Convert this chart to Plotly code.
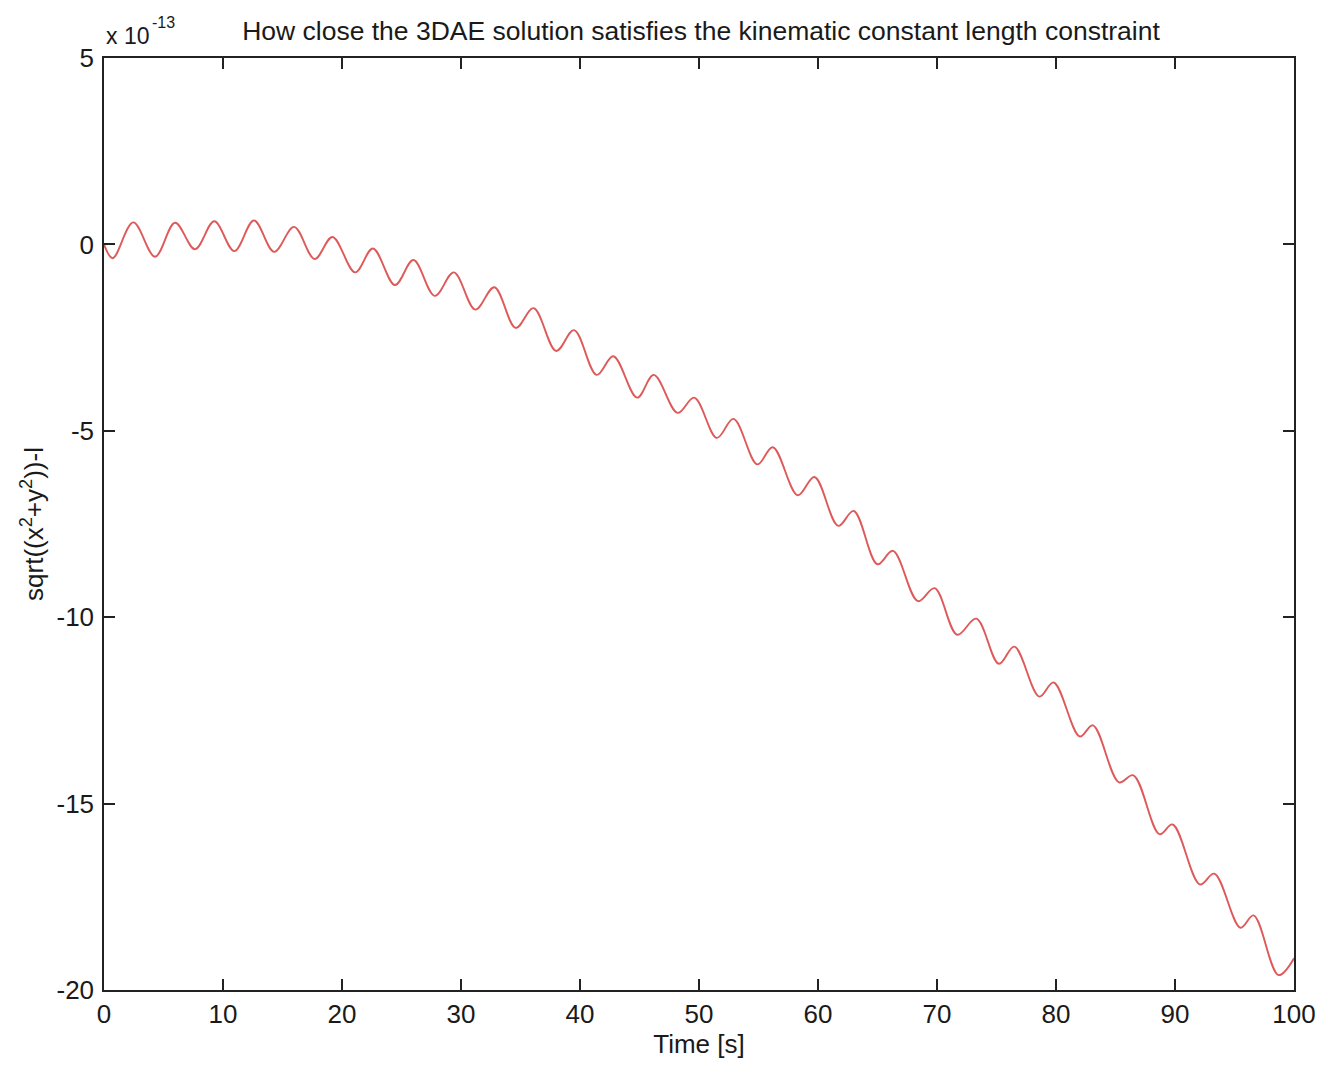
import plotly.graph_objects as go

# Extrema (y in units of 1e-13)
time_s = [0.0, 0.73, 2.46, 4.29, 5.97, 7.65, 9.27, 10.95, 12.6, 14.3,
          15.97, 17.7, 19.2, 21.1, 22.6, 24.45, 26.0, 27.8, 29.4, 31.2,
          32.8, 34.6, 36.1, 38.0, 39.5, 41.4, 42.8, 44.8, 46.2, 48.2,
          49.6, 51.5, 52.9, 54.9, 56.2, 58.3, 59.7, 61.7, 63.0, 65.0,
          66.3, 68.4, 69.8, 71.7, 73.3, 75.2, 76.5, 78.6, 79.8, 82.0,
          83.1, 85.3, 86.5, 88.7, 89.8, 92.1, 93.3, 95.5, 96.6, 98.7,
          100.0]
length_err = [0.0, -0.37, 0.59, -0.33, 0.58, -0.13, 0.62, -0.18, 0.64, -0.2,
              0.47, -0.39, 0.2, -0.75, -0.11, -1.09, -0.42, -1.38, -0.75, -1.75,
              -1.15, -2.24, -1.71, -2.86, -2.3, -3.5, -3.0, -4.11, -3.5, -4.52,
              -4.11, -5.19, -4.68, -5.9, -5.44, -6.73, -6.24, -7.55, -7.15, -8.58,
              -8.22, -9.57, -9.22, -10.47, -10.04, -11.25, -10.79, -12.13, -11.75, -13.2,
              -12.9, -14.43, -14.24, -15.82, -15.56, -17.17, -16.88, -18.33, -18.0, -19.6,
              -19.15]

x_ticks = [0, 10, 20, 30, 40, 50, 60, 70, 80, 90, 100]
y_ticks = [5, 0, -5, -10, -15, -20]
y_tick_labels = ["5", "0", "-5", "-10", "-15", "-20"]

FONT = "Liberation Sans, Arial, sans-serif"
TXT = "#1a1a1a"

fig = go.Figure()
fig.add_trace(go.Scatter(
    x=time_s,
    y=length_err,
    mode="lines",
    line=dict(color="#de5a5a", width=1.9, shape="spline", smoothing=1.0),
    showlegend=False,
))

axis_common = dict(
    showgrid=False,
    zeroline=False,
    showline=True,
    linecolor="#222222",
    linewidth=1.5,
    mirror="ticks",
    ticks="inside",
    ticklen=11,
    tickwidth=1.5,
    tickcolor="#222222",
    tickfont=dict(family=FONT, size=26, color=TXT),
    automargin=False,
)

fig.update_xaxes(
    range=[0, 100],
    tickvals=x_ticks,
    title=dict(text="Time [s]", font=dict(family=FONT, size=26, color=TXT), standoff=0),
    **axis_common,
)
fig.update_yaxes(
    range=[-20, 5],
    tickvals=y_ticks,
    ticktext=y_tick_labels,
    ticklabelstandoff=3,
    title=dict(text="sqrt((x<sup>2</sup>+y<sup>2</sup>))-l",
               font=dict(family=FONT, size=26, color=TXT), standoff=5),
    **axis_common,
)

# exponent label above the y axis, MATLAB style
fig.add_annotation(
    text="x 10",
    xref="paper", yref="paper", x=0.0, y=1.0,
    xanchor="left", yanchor="middle", xshift=0, yshift=22,
    showarrow=False,
    font=dict(family=FONT, size=23, color=TXT),
)
fig.add_annotation(
    text="-13",
    xref="paper", yref="paper", x=0.0, y=1.0,
    xanchor="left", yanchor="middle", xshift=46, yshift=36,
    showarrow=False,
    font=dict(family=FONT, size=16, color=TXT),
)

# page body has an 8px margin, so the figure is sized to fit the window
fig.update_layout(
    width=1315,
    height=1060,
    margin=dict(l=96, r=29, t=50, b=78),
    paper_bgcolor="white",
    plot_bgcolor="white",
    title=dict(
        text="How close the 3DAE solution satisfies the kinematic constant length constraint",
        x=0.527, xanchor="center", y=0.979, yanchor="middle",
        font=dict(family=FONT, size=26.5, color=TXT),
    ),
)

fig.write_html("out.html")
